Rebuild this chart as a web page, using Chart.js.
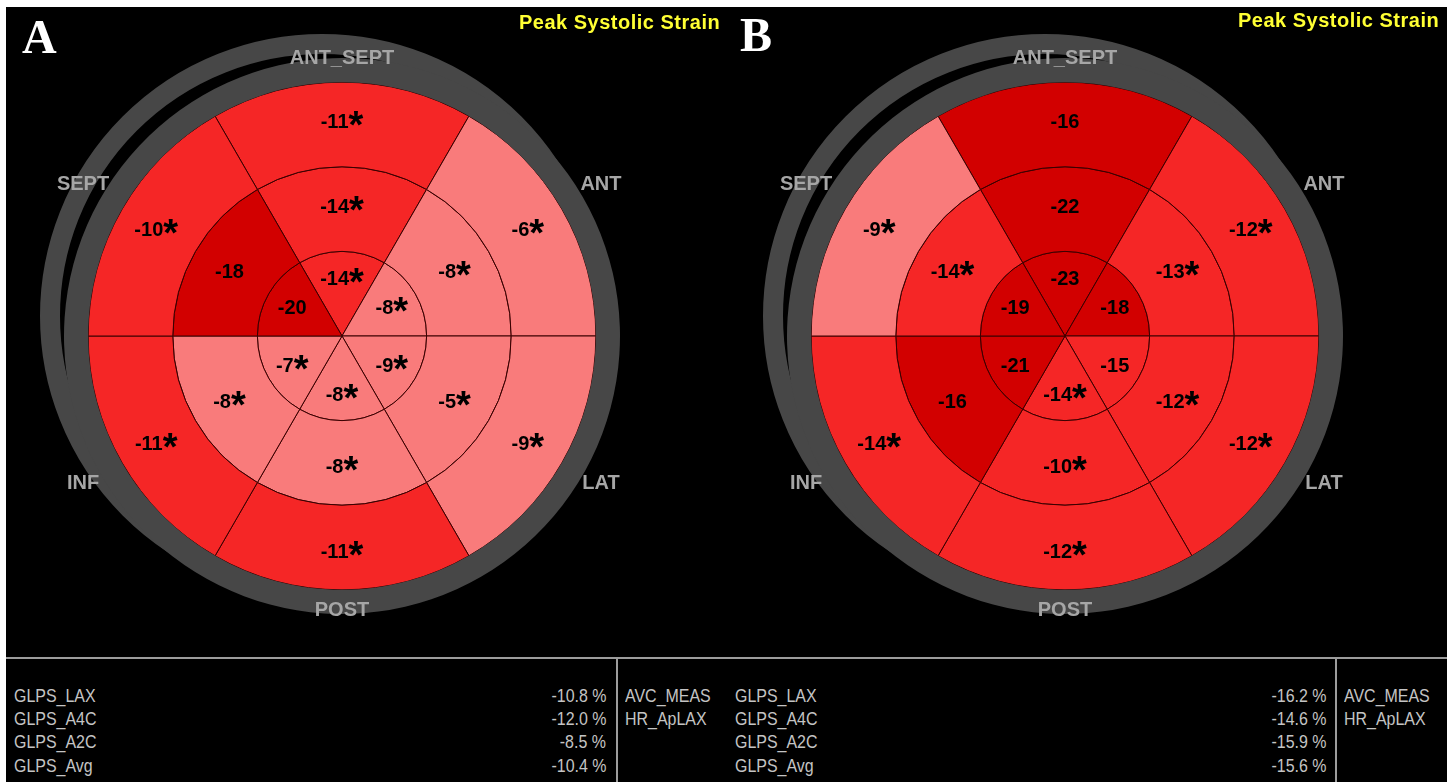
<!DOCTYPE html>
<html>
<head>
<meta charset="utf-8">
<script src="https://cdn.jsdelivr.net/npm/chart.js@4.4.1/dist/chart.umd.min.js"></script>
<style>
    body { margin: 0; background: #fff; width: 1456px; height: 782px; overflow: hidden; position: relative; font-family: "Liberation Sans", Arial, sans-serif; }
    .panel { position: absolute; top: 7px; height: 650px; background: #000; }
    #panelA { left: 6px; width: 722px; }
    #panelB { left: 728px; width: 719px; }
    .panel canvas { position: absolute; left: 0; top: 0; }
    .letter { position: absolute; top: 2px; color: #fff; font: bold 48px "Liberation Serif", "Times New Roman", serif; }
    .title { position: absolute; color: #ffff33; font: bold 20px "Liberation Sans", Arial, sans-serif; letter-spacing: 0.5px; white-space: nowrap; }
    #table { position: absolute; left: 6px; top: 657px; width: 1441px; height: 125px; background: #000; border-top: 2px solid #9c9c9c; box-sizing: border-box; }
    .cell { position: absolute; color: #c4c4c4; font: 19px "Liberation Sans", Arial, sans-serif; white-space: nowrap; line-height: 20px; transform: scaleX(0.84); transform-origin: left center; }
    .cell.num { transform-origin: right center; }
    .vline { position: absolute; top: 0; bottom: 0; width: 2px; background: #9c9c9c; }
</style>
</head>
<body>
<div class="panel" id="panelA">
    <canvas id="chartA" width="722" height="650"></canvas>
    <div class="letter" style="left:16px;">A</div>
    <div class="title" style="left:513px; top:4px;">Peak Systolic Strain</div>
</div>
<div class="panel" id="panelB">
    <canvas id="chartB" width="719" height="650"></canvas>
    <div class="letter" style="left:12px; top:0px;">B</div>
    <div class="title" style="left:510px; top:2px;">Peak Systolic Strain</div>
</div>
<div id="table"></div>

<script>
// segment order, clockwise from the top
const segmentNames = ['ANT_SEPT', 'ANT', 'LAT', 'POST', 'INF', 'SEPT'];

// panel A, peak systolic strain (%)
const basalA = [-11, -6, -9, -11, -11, -10];
const midA = [-14, -8, -5, -8, -8, -18];
const apicalA = [-14, -8, -9, -8, -7, -20];
const basalStarA = [true, true, true, true, true, true];
const midStarA = [true, true, true, true, true, false];
const apicalStarA = [true, true, true, true, true, false];

// panel B
const basalB = [-16, -12, -12, -12, -14, -9];
const midB = [-22, -13, -12, -10, -16, -14];
const apicalB = [-23, -18, -15, -14, -21, -19];
const basalStarB = [false, true, true, true, true, true];
const midStarB = [false, true, true, true, false, true];
const apicalStarB = [false, false, false, true, false, false];

// table below the plots
const glpsLabels = ['GLPS_LAX', 'GLPS_A4C', 'GLPS_A2C', 'GLPS_Avg'];
const glpsA = [-10.8, -12.0, -8.5, -10.4];
const glpsB = [-16.2, -14.6, -15.9, -15.6];
const sideLabels = ['AVC_MEAS', 'HR_ApLAX'];

const PINK = '#f97b7b';
const RED = '#f52626';
const DARK = '#d20000';
const RING = '#474747';

function strainColor(v) {
    if (v >= -9) return PINK;
    if (v > -16) return RED;
    return DARK;
}

// labels for values, wall names and the second (offset) grey ring
const bullseyePlugin = {
    id: 'bullseye',
    beforeDatasetsDraw(chart) {
        const ring = chart.getDatasetMeta(0).data[0];
        const ctx = chart.ctx;
        ctx.save();
        ctx.strokeStyle = RING;
        ctx.lineWidth = 20;
        ctx.beginPath();
        ctx.arc(ring.x - 20, ring.y - 20, ring.outerRadius - 6, 0, Math.PI * 2);
        ctx.stroke();
        ctx.restore();
    },
    afterDatasetsDraw(chart) {
        const ctx = chart.ctx;
        const stars = chart.options.plugins.bullseye.stars;
        const numFont = 'bold 20px "Liberation Sans", Arial, sans-serif';
        const starFont = 'bold 38px "Liberation Sans", Arial, sans-serif';
        ctx.save();
        ctx.fillStyle = '#000';
        ctx.textBaseline = 'alphabetic';
        for (let d = 1; d <= 3; d++) {
            const meta = chart.getDatasetMeta(d);
            const values = chart.data.datasets[d].strain;
            meta.data.forEach((arc, i) => {
                const mid = (arc.startAngle + arc.endAngle) / 2;
                const r = arc.innerRadius > 0 ? (arc.innerRadius + arc.outerRadius) / 2 + 3 : arc.outerRadius * 0.68;
                const px = arc.x + Math.cos(mid) * r;
                const py = arc.y + Math.sin(mid) * r;
                const num = String(values[i]);
                const star = stars[d - 1][i] ? '*' : '';
                ctx.font = numFont;
                const w1 = ctx.measureText(num).width;
                ctx.font = starFont;
                const w2 = star ? ctx.measureText(star).width : 0;
                const x0 = px - (w1 + w2) / 2;
                ctx.font = numFont;
                ctx.fillText(num, x0, py + 7);
                if (star) {
                    ctx.font = starFont;
                    ctx.fillText(star, x0 + w1, py + 17);
                }
            });
        }
        // wall names round the outside
        const ring = chart.getDatasetMeta(0).data[0];
        ctx.font = 'bold 20px "Liberation Sans", Arial, sans-serif';
        ctx.fillStyle = '#a6a6a6';
        ctx.textAlign = 'center';
        ctx.textBaseline = 'middle';
        chart.getDatasetMeta(1).data.forEach((arc, i) => {
            const mid = (arc.startAngle + arc.endAngle) / 2;
            const vertical = Math.abs(Math.cos(mid)) < 0.1;
            const r = vertical ? ring.outerRadius - 2 : ring.outerRadius + 21;
            ctx.fillText(segmentNames[i], ring.x + Math.cos(mid) * r, ring.y + Math.sin(mid) * r - 2);
        });
        ctx.restore();
    }
};

function makeBullseye(id, basal, mid, apical, stars, padding) {
    const ringData = [basal, mid, apical].map(vals => ({
        data: vals.map(() => 1),
        strain: vals,
        backgroundColor: vals.map(strainColor),
        borderColor: '#3a0000',
        borderWidth: 1,
        weight: 84
    }));
    return new Chart(document.getElementById(id), {
        type: 'doughnut',
        data: {
            labels: segmentNames,
            datasets: [
                { data: [1], backgroundColor: RING, borderWidth: 0, weight: 24 },
                ...ringData
            ]
        },
        options: {
            responsive: false,
            animation: false,
            events: [],
            cutout: 0,
            rotation: -30,
            layout: { padding: padding },
            plugins: {
                legend: { display: false },
                tooltip: { enabled: false },
                bullseye: { stars: stars }
            }
        },
        plugins: [bullseyePlugin]
    });
}

makeBullseye('chartA', basalA, midA, apicalA, [basalStarA, midStarA, apicalStarA],
    { left: 58, right: 108, top: 51, bottom: 43 });
makeBullseye('chartB', basalB, midB, apicalB, [basalStarB, midStarB, apicalStarB],
    { left: 59, right: 104, top: 51, bottom: 43 });

// global strain table
function makeTable(values, x0, valueRight, lineX) {
    const table = document.getElementById('table');
    const rowY = [37, 60, 83, 107];
    glpsLabels.forEach((label, i) => {
        const l = document.createElement('div');
        l.className = 'cell';
        l.style.left = x0 + 'px';
        l.style.top = (rowY[i] - 10) + 'px';
        l.textContent = label;
        table.appendChild(l);
        const v = document.createElement('div');
        v.className = 'cell num';
        v.style.right = (1441 - valueRight) + 'px';
        v.style.top = (rowY[i] - 10) + 'px';
        v.textContent = values[i].toFixed(1) + ' %';
        table.appendChild(v);
    });
    const line = document.createElement('div');
    line.className = 'vline';
    line.style.left = lineX + 'px';
    table.appendChild(line);
    sideLabels.forEach((label, i) => {
        const s = document.createElement('div');
        s.className = 'cell';
        s.style.left = (lineX + 9) + 'px';
        s.style.top = (rowY[i] - 10) + 'px';
        s.textContent = label;
        table.appendChild(s);
    });
}

makeTable(glpsA, 8, 600, 610);
makeTable(glpsB, 729, 1320, 1329);
</script>
</body>
</html>
